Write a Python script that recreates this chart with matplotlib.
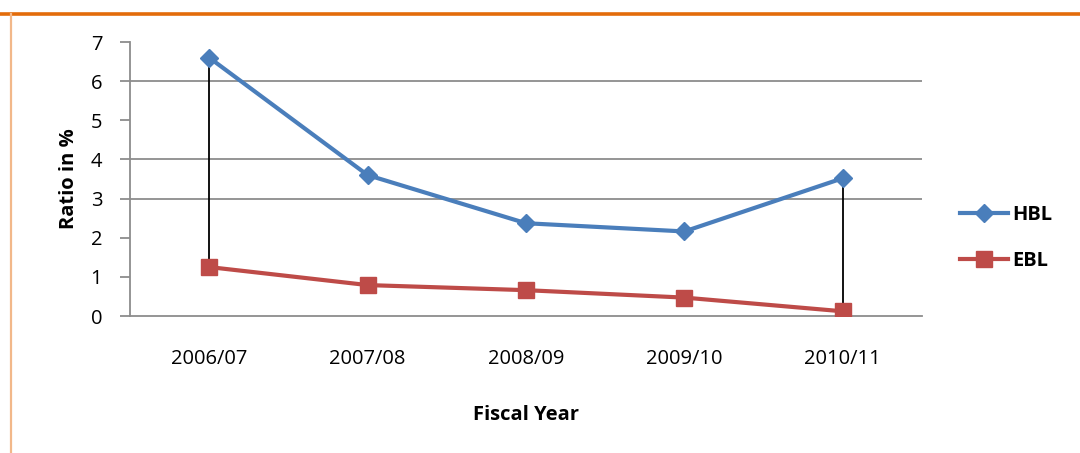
import matplotlib
matplotlib.use("Agg")
import matplotlib.pyplot as plt
from matplotlib.lines import Line2D

years = ["2006/07", "2007/08", "2008/09", "2009/10", "2010/11"]
hbl = [6.6, 3.6, 2.37, 2.16, 3.52]
ebl = [1.25, 0.79, 0.66, 0.47, 0.12]
y_ticks = [0, 1, 2, 3, 4, 5, 6, 7]
grid_levels = [3, 4, 6]

blue = "#4A7EBB"
red = "#BE4B48"
axis_gray = "#8C8C8C"
font = ["Open Sans", "DejaVu Sans"]
fs = 14.5

fig = plt.figure(figsize=(10.8, 4.53), dpi=100)
fig.patch.set_facecolor("white")

# orange frame around the chart area
fig.add_artist(Line2D([0.0, 1.0], [1 - 14 / 453, 1 - 14 / 453], color="#E36C0A",
                      lw=2.6, transform=fig.transFigure))
fig.add_artist(Line2D([11 / 1080, 11 / 1080], [0.0, 1 - 14 / 453], color="#F2B88A",
                      lw=1.6, transform=fig.transFigure))

ax = fig.add_axes([130 / 1080, (453 - 316) / 453, (922 - 130) / 1080, (316 - 42) / 453])
x = list(range(len(years)))

for g in grid_levels:
    ax.axhline(g, color=axis_gray, lw=1.3, zorder=1)

# drop lines between the two series at the first and last year
for i in (0, len(years) - 1):
    ax.vlines(x[i], ebl[i], hbl[i], color="black", lw=1.3, zorder=2)

ax.plot(x, hbl, color=blue, lw=3.0, marker="D", ms=9, mfc=blue, mec=blue, zorder=3, label="HBL")
ax.plot(x, ebl, color=red, lw=3.0, marker="s", ms=11, mfc=red, mec=red, zorder=3, label="EBL")

ax.set_xlim(-0.5, len(years) - 0.5)
ax.set_ylim(0, 7)
ax.set_yticks(y_ticks)
ax.set_xticks(x)
ax.set_xticklabels(years, fontsize=fs, family=font)
for lab in ax.get_yticklabels():
    lab.set_fontsize(fs)
    lab.set_family(font)

for side in ("top", "right"):
    ax.spines[side].set_visible(False)
for side in ("left", "bottom"):
    ax.spines[side].set_color(axis_gray)
    ax.spines[side].set_linewidth(1.3)

ax.tick_params(axis="y", length=7, width=1.3, color=axis_gray, pad=13)
ax.tick_params(axis="x", length=0, pad=24)

ax.set_xlabel("Fiscal Year", fontsize=fs, fontweight="bold", family=font, labelpad=26)
ax.set_ylabel("Ratio in %", fontsize=fs, fontweight="bold", family=font, labelpad=8)

ax.legend(loc="center left", bbox_to_anchor=(1.025, 0.285), frameon=False,
          prop={"family": font, "weight": "bold", "size": fs},
          handlelength=2.4, labelspacing=1.3, handletextpad=0.2)

fig.savefig("out.png", dpi=100, facecolor="white")
